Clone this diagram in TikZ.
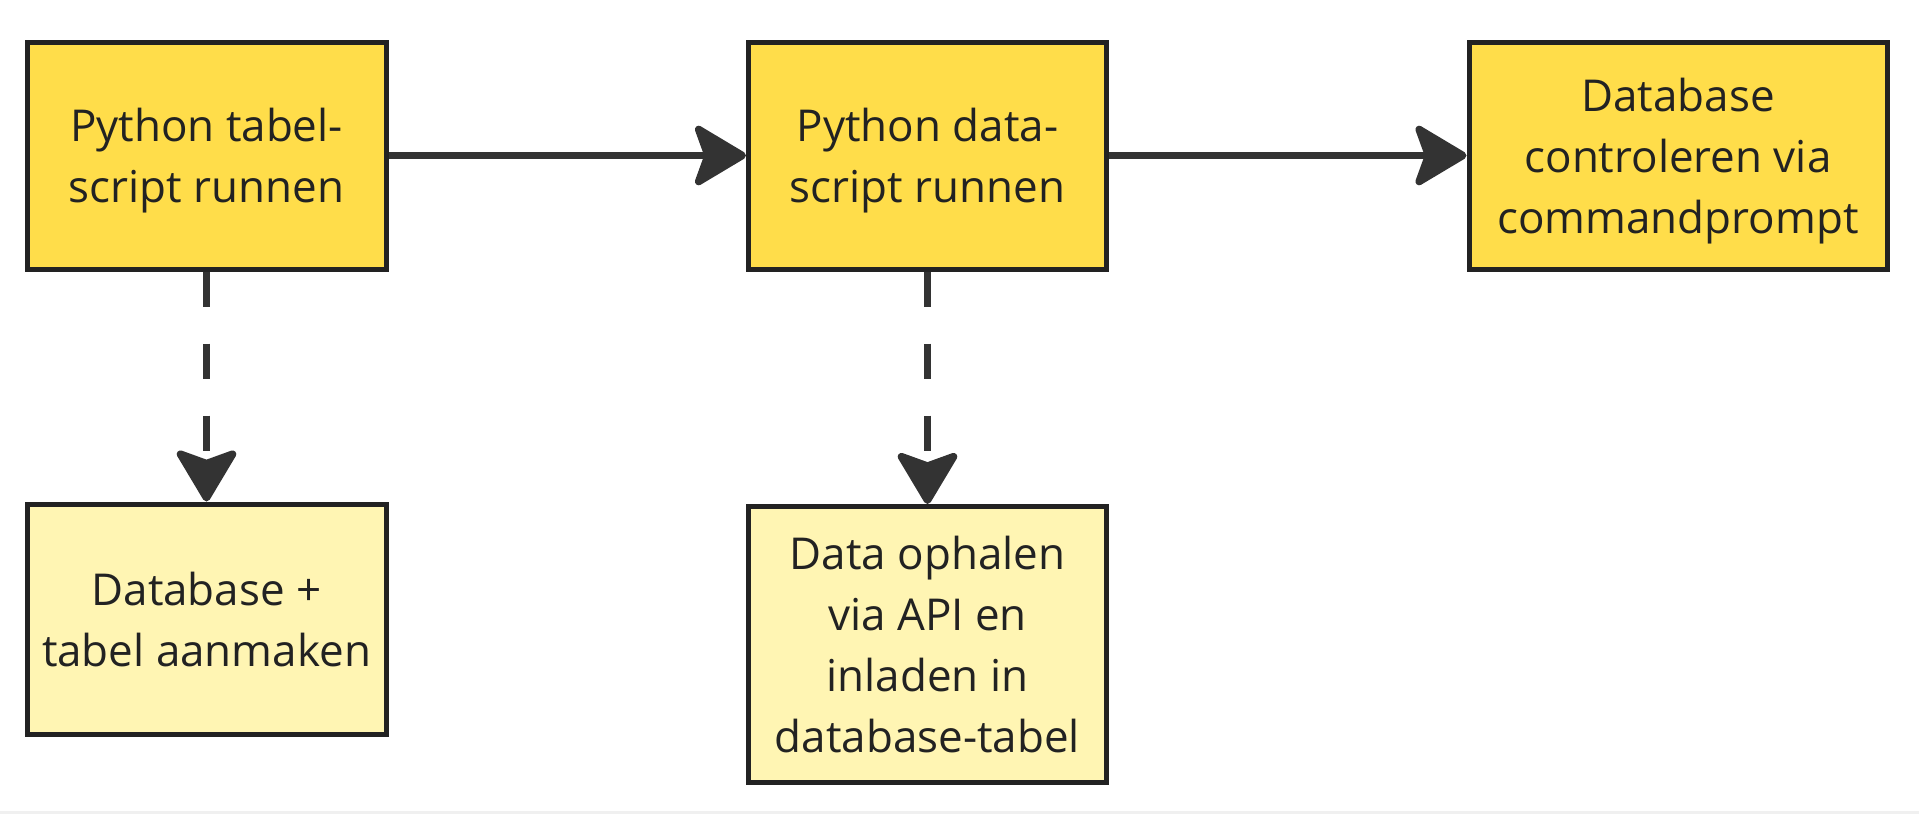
\documentclass[tikz,border=0pt]{standalone}
\usepackage{fontspec}
\setmainfont{Open Sans}
\usepackage{tikz}
\usetikzlibrary{arrows.meta, positioning}

\definecolor{stepgold}{HTML}{FFDD4A}
\definecolor{steplight}{HTML}{FFF5B3}
\definecolor{edgegray}{HTML}{333333}
\definecolor{framegray}{HTML}{222222}

\begin{document}
\begin{tikzpicture}[
    stepbox/.style={draw=framegray, line width=0.1cm, rectangle, align=center, text=framegray,
        font=\fontsize{25}{34.8}\selectfont, inner sep=0pt, text depth=0pt},
    mainbox/.style={stepbox, fill=stepgold, minimum height=4.54cm},
    subbox/.style={stepbox, fill=steplight},
    flow/.style={draw=edgegray, line width=0.15cm,
        -{Stealth[length=1.15cm, width=1.36cm, inset=0.24cm, round]}},
    flowdash/.style={flow, dash pattern=on 0.7cm off 0.74cm}
]
    \useasboundingbox (0,0) rectangle (38.38,-16.28);
    \fill[gray!12] (0,-16.22) rectangle (38.38,-16.28);

    \node (tabelscript) [mainbox, minimum width=7.18cm] at (4.13,-3.11) {Python tabel-\\script runnen};
    \node (datascript) [mainbox, minimum width=7.16cm] at (18.55,-3.11) {Python data-\\script runnen};
    \node (controle) [mainbox, minimum width=8.36cm] at (33.56,-3.11) {Database\\controleren via\\commandprompt};

    \node (aanmaken) [subbox, minimum width=7.18cm, minimum height=4.6cm] at (4.13,-12.38) {Database +\\tabel aanmaken};
    \node (ophalen) [subbox, minimum width=7.16cm, minimum height=5.52cm, anchor=north] at (18.55,-10.08) {Data ophalen\\via API en\\inladen in\\database-tabel};

    \draw[flow] (tabelscript) -- (datascript);
    \draw[flow] (datascript) -- (controle);
    \draw[flowdash] (tabelscript) -- (aanmaken);
    \draw[flowdash] (datascript) -- (ophalen);
\end{tikzpicture}
\end{document}
